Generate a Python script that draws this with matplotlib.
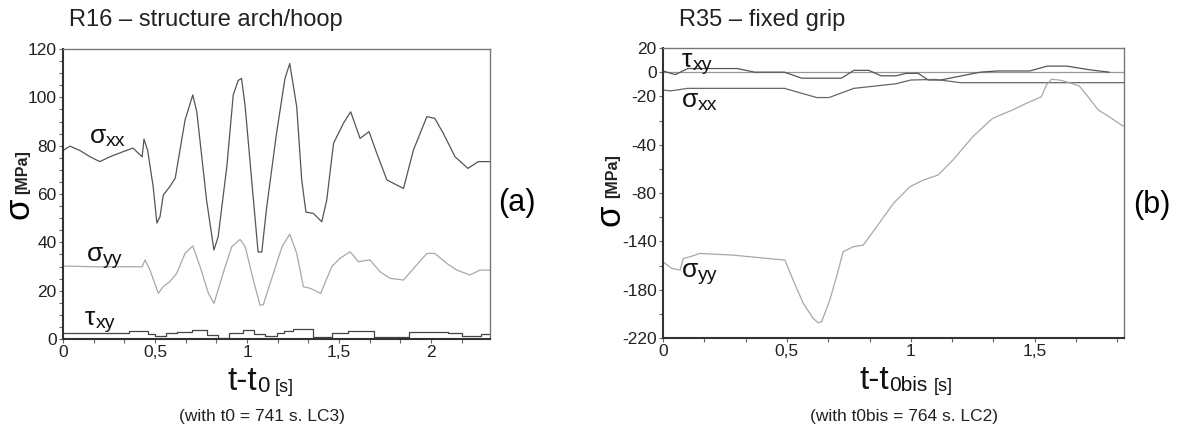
import numpy as np
import matplotlib.pyplot as plt
from matplotlib.ticker import MultipleLocator, FixedLocator

plt.rcParams['font.family'] = ['Liberation Sans', 'DejaVu Sans']

# ---- panel (a) : R16 (MPa vs s)
t_a_xx = [0, 0.038, 0.092, 0.147, 0.2, 0.255, 0.326, 0.38, 0.43, 0.44, 0.46, 0.49, 0.51, 0.527,
          0.545, 0.58, 0.61, 0.663, 0.685, 0.705, 0.727, 0.78, 0.82, 0.843, 0.89, 0.925, 0.952,
          0.97, 0.99, 1.025, 1.06, 1.08, 1.107, 1.16, 1.206, 1.232, 1.27, 1.297, 1.32, 1.36,
          1.406, 1.433, 1.47, 1.523, 1.563, 1.614, 1.663, 1.705, 1.76, 1.85, 1.904, 1.977, 2.02,
          2.067, 2.13, 2.2, 2.257, 2.32]
s_a_xx = [78, 79.8, 78, 75.4, 73.4, 75.4, 77.5, 79, 75.4, 82.7, 78, 63, 48, 50.6,
          59.6, 63, 66.6, 90.6, 96, 101, 94, 57.5, 36.8, 42.3, 71.3, 101, 107,
          107.8, 96, 65.8, 36, 36, 54.7, 85, 107.8, 114, 96, 65.8, 52.5, 52,
          48.5, 57.5, 81, 89.2, 94, 83, 85.8, 76.8, 65.8, 62.3, 78.2, 92, 91.3,
          85, 75.4, 70.6, 73.4, 73.4]

t_a_yy = [0, 0.165, 0.43, 0.446, 0.473, 0.518, 0.545, 0.58, 0.618, 0.663, 0.705, 0.745, 0.79,
          0.82, 0.87, 0.917, 0.962, 0.99, 1.034, 1.07, 1.088, 1.143, 1.19, 1.232, 1.27, 1.306,
          1.342, 1.4, 1.46, 1.505, 1.56, 1.605, 1.668, 1.723, 1.777, 1.85, 1.913, 1.977, 2.02,
          2.085, 2.14, 2.21, 2.266, 2.32]
s_a_yy = [30.2, 29.9, 29.9, 32.7, 28.5, 18.9, 21.7, 23.7, 27.2, 35.4, 38.5, 29.9, 18.9,
          14.7, 27.2, 38.2, 41.2, 38.2, 24.4, 14.1, 14.1, 27.2, 38.2, 43.4, 35.4, 21.6,
          21, 18.9, 29.9, 33.4, 36.1, 32, 32.7, 27.8, 25.1, 24.4, 29.9, 35.4, 35.4,
          31.3, 28.5, 26.5, 28.5, 28.5]

t_a_xy = [0, 0.36, 0.46, 0.5, 0.56, 0.62, 0.7, 0.78, 0.84, 0.9, 0.98, 1.04, 1.1, 1.16, 1.2,
          1.25, 1.36, 1.46, 1.55, 1.69, 1.88, 2.09, 2.17, 2.27, 2.32]
s_a_xy = [2.3, 3.2, 2.0, 1.2, 2.3, 2.8, 3.6, 1.5, 0.6, 2.3, 3.9, 2.0, 1.2, 2.5, 3.4,
          4.2, 1.0, 2.3, 3.2, 1.0, 3.0, 2.3, 1.2, 2.0, 2.0]

# ---- panel (b) : R35
t_b_xy = [0, 0.05, 0.1, 0.3, 0.37, 0.49, 0.56, 0.72, 0.77, 0.83, 0.88, 0.94, 0.98, 1.03,
          1.07, 1.12, 1.28, 1.35, 1.48, 1.55, 1.63, 1.72, 1.8]
s_b_xy = [1, -2, 3, 3, 0, 0, -5, -5, 1.5, 1.5, -3, -3, -1, -1,
          -6.5, -6.5, 0, 1, 1, 5, 5, 2, 0]

t_b_xx = [0, 0.03, 0.1, 0.49, 0.62, 0.67, 0.77, 0.94, 1.0, 1.1, 1.2, 1.86]
s_b_xx = [-14.8, -15.5, -13.4, -13.4, -21, -21, -13.4, -9.6, -6.5, -6, -8.7, -8.7]

t_b_yy = [0, 0.035, 0.069, 0.082, 0.109, 0.149, 0.283, 0.418, 0.492, 0.525, 0.566, 0.606,
          0.626, 0.64, 0.673, 0.7, 0.727, 0.767, 0.808, 0.862, 0.93, 0.996, 1.05, 1.11, 1.17,
          1.25, 1.33, 1.41, 1.466, 1.527, 1.547, 1.567, 1.6, 1.64, 1.68, 1.72, 1.756, 1.8, 1.856]
s_b_yy = [-156.9, -162.4, -163.8, -154.1, -152.8, -150, -151.4, -154.1, -155.5, -172, -191.4,
          -203.8, -207.4, -206.6, -188.6, -169.3, -148.6, -144.5, -143.1, -127.9, -108.6,
          -94.8, -89.3, -85.1, -72.7, -53.4, -38.2, -31.3, -25.8, -20.3, -10.6, -5.9, -6.5,
          -8.7, -11.5, -21.6, -31.3, -36.9, -44.6]

xticks = [0, 0.5, 1, 1.5, 2]
xlabels = ['0', '0,5', '1', '1,5', '2']
yticks_b = [20, 0, -20, -60, -100, -140, -180, -220]
ylabels_b = ['20', '0', '-20', '-40', '-80', '-140', '-180', '-220']

W, H = 1182, 433
fig = plt.figure(figsize=(W / 100, H / 100), dpi=100)
renderer = fig.canvas.get_renderer()


def px(x, y):
    return x / W, 1 - y / H


def chain(x, y, parts, color='#111111'):
    # parts: (text, size, drop in px, gap in px before it, weight)
    cx = x
    for txt, size, drop, gap, weight in parts:
        cx += gap
        t = fig.text(*px(cx, y + drop), txt, fontsize=size, fontweight=weight,
                     va='baseline', ha='left', color=color)
        cx = t.get_window_extent(renderer).x1


def style_axes(ax):
    for side in ['top', 'right']:
        ax.spines[side].set_color('#777777')
        ax.spines[side].set_linewidth(1.0)
    for side in ['left', 'bottom']:
        ax.spines[side].set_color('#333333')
        ax.spines[side].set_linewidth(1.5)
    ax.tick_params(which='both', direction='out', length=3, width=0.8, color='#666666',
                   labelsize=12.5, pad=1.5, labelcolor='#222222')
    ax.xaxis.set_minor_locator(MultipleLocator(1 / 6))


def series_label(x, y, main, sub):
    chain(x, y, [(main, 19, 0, 0, 'normal'), (sub, 14, 3, 0, 'normal')])


# panel (a)
ax1 = fig.add_axes([63 / W, 1 - 339 / H, (490 - 63) / W, (339 - 49) / H])
ax1.plot(t_a_xx, s_a_xx, color='#555555', lw=0.9)
ax1.plot(t_a_yy, s_a_yy, color='#a8a8a8', lw=0.9)
ax1.plot(t_a_xy, s_a_xy, color='#444444', lw=0.9, drawstyle='steps-post')
ax1.set_xlim(0, 2.32)
ax1.set_ylim(0, 120)
ax1.set_xticks(xticks)
ax1.set_xticklabels(xlabels)
ax1.set_yticks(np.arange(0, 121, 20))
ax1.yaxis.set_minor_locator(MultipleLocator(5))
style_axes(ax1)

# panel (b)
ax2 = fig.add_axes([663 / W, 1 - 338 / H, (1124 - 663) / W, (338 - 48) / H])
ax2.axhline(0, color='#999999', lw=0.9)
ax2.plot(t_b_xy, s_b_xy, color='#555555', lw=0.9)
ax2.plot(t_b_xx, s_b_xx, color='#666666', lw=0.9)
ax2.plot(t_b_yy, s_b_yy, color='#a8a8a8', lw=0.9)
ax2.set_xlim(0, 1.86)
ax2.set_ylim(-220, 20)
ax2.set_xticks(xticks[:4])
ax2.set_xticklabels(xlabels[:4])
ax2.yaxis.set_major_locator(FixedLocator(yticks_b))
ax2.set_yticklabels(ylabels_b)
ax2.yaxis.set_minor_locator(MultipleLocator(20))
style_axes(ax2)

# curve names (pixel positions of their baselines)
series_label(90, 143, 'σ', 'xx')
series_label(87, 261, 'σ', 'yy')
series_label(85, 325, 'τ', 'xy')
series_label(682, 67, 'τ', 'xy')
series_label(682, 107, 'σ', 'xx')
series_label(682, 277, 'σ', 'yy')

# titles, axis labels, panel letters, captions
fig.text(*px(69, 20), 'R16 – structure arch/hoop', fontsize=17, va='center', color='#222222')
fig.text(*px(679, 20), 'R35 – fixed grip', fontsize=17, va='center', color='#222222')

for (sx, sy, mx, my) in [(19, 208, 23, 172), (610, 215, 613, 176)]:
    fig.text(*px(sx, sy), 'σ', fontsize=25, rotation=90, ha='center', va='center')
    fig.text(*px(mx, my), '[MPa]', fontsize=11.5, fontweight='bold', rotation=90,
             ha='center', va='center', color='#222222')

chain(228, 390, [('t-t', 24, 0, 0, 'normal'), ('0', 16, 2, 0, 'normal'),
                 ('[s]', 13, 2, 5, 'normal')])
chain(860, 389, [('t-t', 24, 0, 0, 'normal'), ('0bis', 15, 2, 0, 'normal'),
                 ('[s]', 13, 2, 6, 'normal')])

fig.text(*px(517, 203), '(a)', fontsize=22, ha='center', va='center')
fig.text(*px(1152, 205), '(b)', fontsize=22, ha='center', va='center')

fig.text(*px(262, 416), '(with t0 = 741 s. LC3)', fontsize=12.5, ha='center', va='center', color='#222222')
fig.text(*px(904, 416), '(with t0bis = 764 s. LC2)', fontsize=12.5, ha='center', va='center', color='#222222')

fig.savefig('out.png', dpi=100)
